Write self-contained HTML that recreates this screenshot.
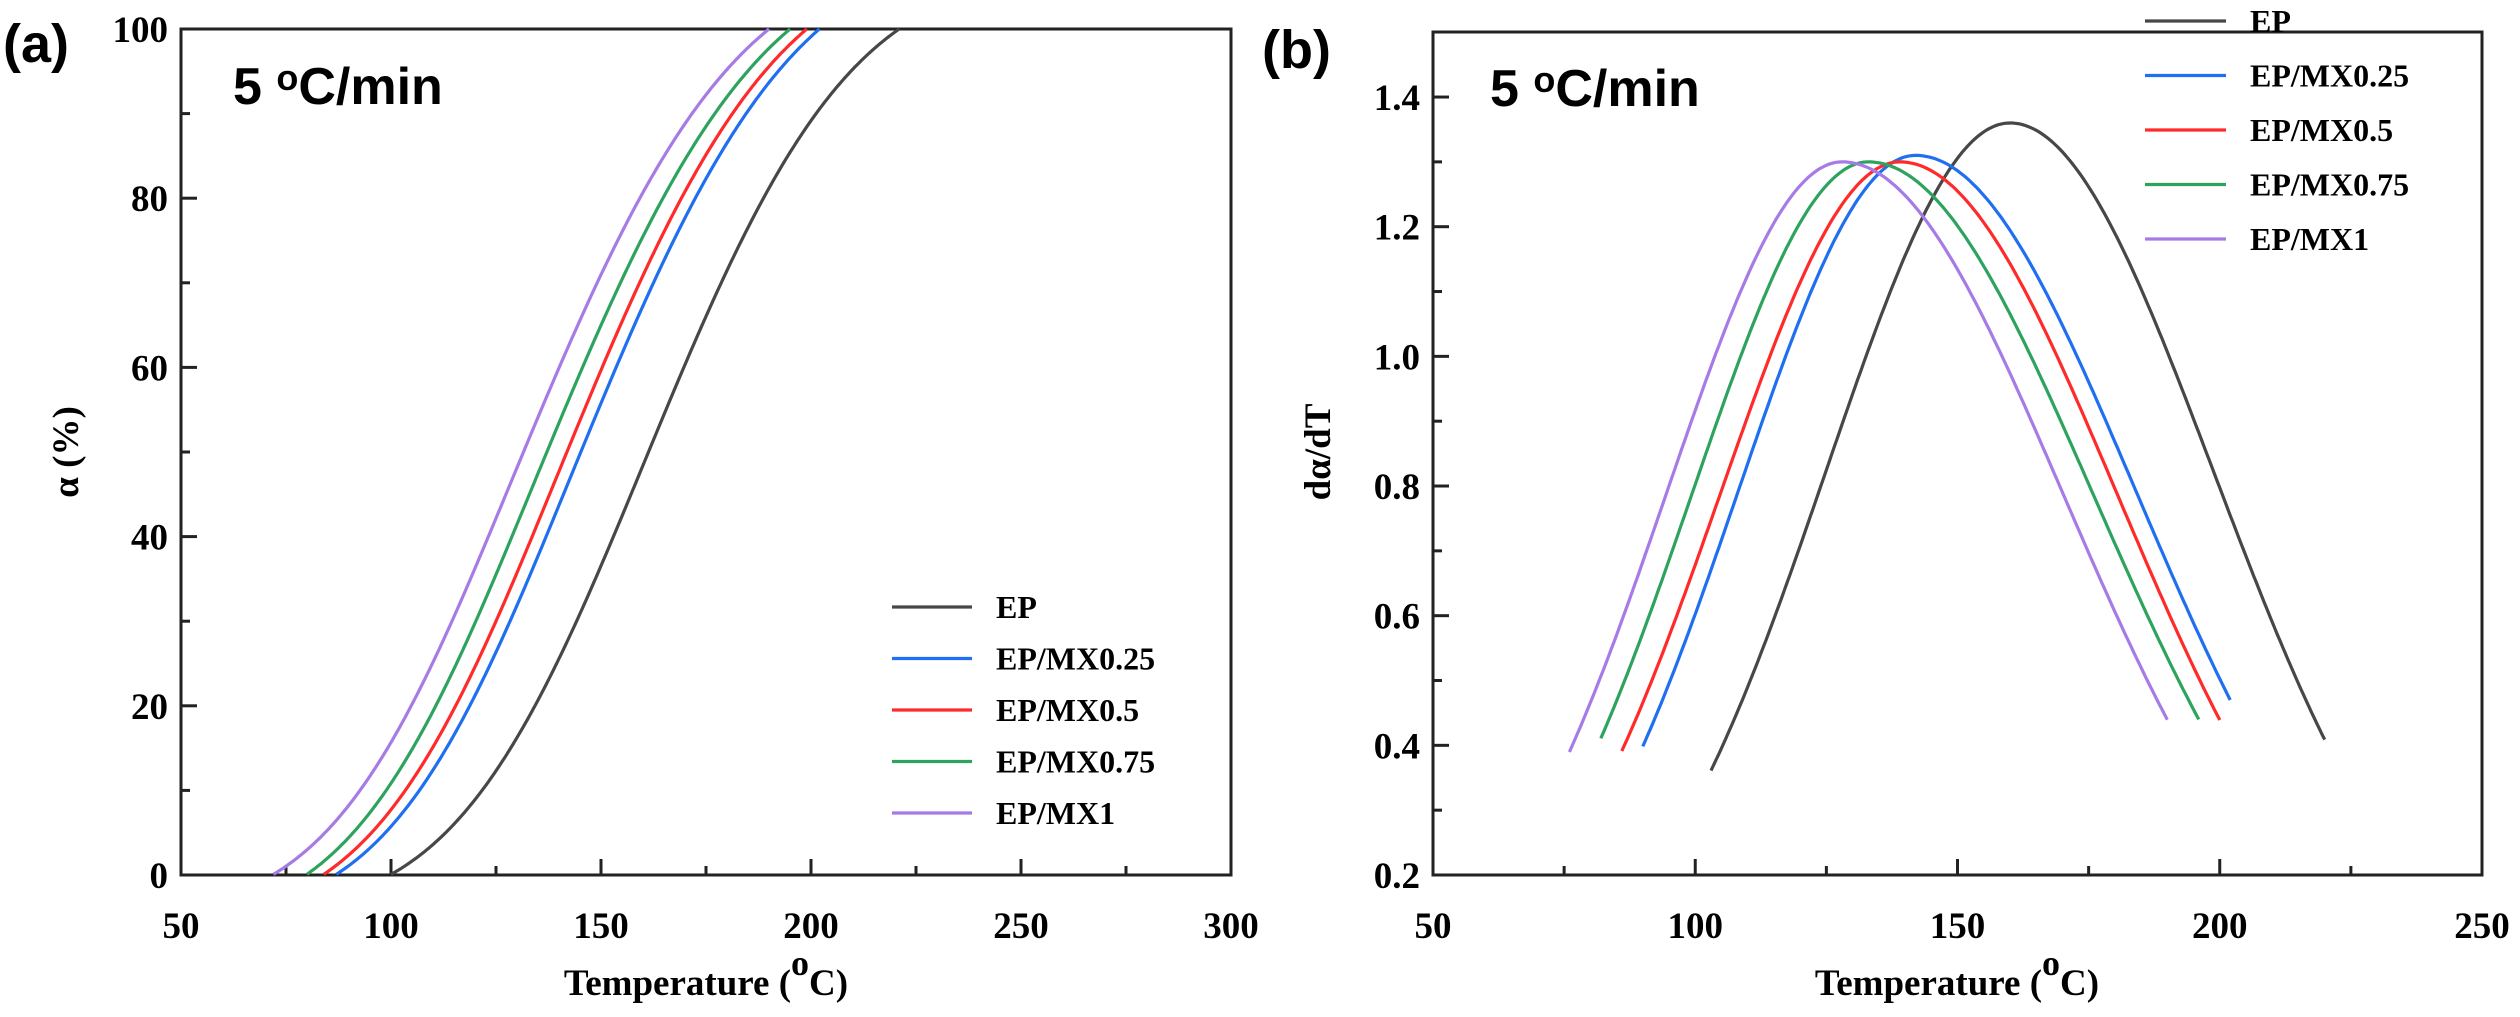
<!DOCTYPE html>
<html><head><meta charset="utf-8"><style>
html,body{margin:0;padding:0;background:#fff}
svg{display:block}
.t{font-family:"Liberation Serif",serif;font-weight:bold;font-size:37px;fill:#000}
.h{font-family:"Liberation Sans",sans-serif;font-weight:bold;fill:#000}
.lg{font-family:"Liberation Serif",serif;font-weight:bold;font-size:32px;fill:#000}
</style></head><body>
<svg id="s" width="2520" height="1017" xmlns="http://www.w3.org/2000/svg">
<rect width="2520" height="1017" fill="#fff"/>
<text class="h" x="3" y="62" font-size="54">(a)</text>
<text class="h" x="1262" y="68" font-size="54">(b)</text>
<text class="h" x="233" y="104" font-size="52">5 <tspan font-size="36" dy="-14">o</tspan><tspan dy="14">C/min</tspan></text>
<text class="h" x="1490" y="106" font-size="52">5 <tspan font-size="36" dy="-14">o</tspan><tspan dy="14">C/min</tspan></text>
<text class="t" font-size="58" x="706" y="995" text-anchor="middle">Temperature (<tspan font-size="36" dy="-20">o</tspan><tspan dy="20">C)</tspan></text>
<text class="t" font-size="58" x="1957" y="995" text-anchor="middle">Temperature (<tspan font-size="36" dy="-20">o</tspan><tspan dy="20">C)</tspan></text>
<text class="t" font-size="44" transform="translate(78,452) rotate(-90)" text-anchor="middle">α (%)</text>
<text class="t" font-size="44" transform="translate(1330,452) rotate(-90)" text-anchor="middle">dα/dT</text>
<g id="g"></g>
</svg>
<script>
var g=document.getElementById('g'),h='';
function L(x1,y1,x2,y2,w,c){h+='<line x1="'+x1+'" y1="'+y1+'" x2="'+x2+'" y2="'+y2+'" stroke="'+(c||'#222')+'" stroke-width="'+(w||3)+'"/>';}
function T(x,y,s,a){h+='<text class="t" x="'+x+'" y="'+y+'" text-anchor="'+(a||'middle')+'">'+s+'</text>';}
var aL=181,aR=1231,aT=29,aB=875;
function ax(t){return aL+(t-50)*4.2;} function ay(v){return aB-v*8.46;}
h+='<rect x="'+aL+'" y="'+aT+'" width="'+(aR-aL)+'" height="'+(aB-aT)+'" fill="none" stroke="#222" stroke-width="3"/>';
for(var t=50;t<=300;t+=25){var x=ax(t);L(x,aB,x,aB-(t%50?9:16));if(t%50==0)T(x,938,t);}
for(var v=0;v<=100;v+=10){var y=ay(v);L(aL,y,aL+(v%20?9:16),y);if(v%20==0)T(168,y+13,v,'end');}
var bL=1433,bR=2482,bT=32,bB=875;
function bx(t){return bL+(t-50)*5.245;} function by(v){return bB-(v-0.2)*648.3;}
h+='<rect x="'+bL+'" y="'+bT+'" width="'+(bR-bL)+'" height="'+(bB-bT)+'" fill="none" stroke="#222" stroke-width="3"/>';
for(var t=50;t<=250;t+=25){var x=bx(t);L(x,bB,x,bB-(t%50?9:16));if(t%50==0)T(x,938,t);}
for(var i=2;i<=14;i++){var v=i/10,y=by(v);L(bL,y,bL+(i%2?9:16),y);if(i%2==0)T(1420,y+13,v.toFixed(1),'end');}
var S=[
 {c:'#474747',n:'EP',mu:160,A:1.36,sl:35,sr:38.7,b0:103,b1:220,a0:100,a1:221},
 {c:'#1f6ff0',n:'EP/MX0.25',mu:142,A:1.31,sl:33.7,sr:41.9,b0:90,b1:202,a0:87,a1:202},
 {c:'#ff2a2a',n:'EP/MX0.5',mu:139,A:1.30,sl:34.2,sr:41.4,b0:86,b1:200,a0:84,a1:199},
 {c:'#2ea35e',n:'EP/MX0.75',mu:133,A:1.30,sl:33.6,sr:42.8,b0:82,b1:196,a0:80,a1:195},
 {c:'#a77be6',n:'EP/MX1',mu:128,A:1.30,sl:33.5,sr:42.1,b0:76,b1:190,a0:72,a1:190}];
function f(s,t){var sg=t<s.mu?s.sl:s.sr;return s.A*Math.exp(-Math.pow(t-s.mu,2)/(2*sg*sg));}
S.forEach(function(s,k){
 var p='';for(var t=s.b0;t<=s.b1+1e-6;t+=0.5){p+=(p?'L':'M')+bx(t).toFixed(1)+','+by(f(s,t)).toFixed(1);}
 h+='<path d="'+p+'" fill="none" stroke="'+s.c+'" stroke-width="3.2"/>';
 var tot=0,d=0.25;for(var t=s.a0;t<=s.a1;t+=d){tot+=f(s,t)*d;}
 var c=0;p='';for(var t=s.a0;t<=s.a1+1e-6;t+=d){c+=f(s,t)*d;var v=100*Math.min(1,c/tot);if(Math.round((t-s.a0)/d)%2==0||t+d>s.a1)p+=(p?'L':'M')+ax(t).toFixed(1)+','+ay(v).toFixed(1);}
 h+='<path d="'+p+'" fill="none" stroke="'+s.c+'" stroke-width="3.2"/>';
 var ya=607+k*51.5;L(892,ya,972,ya,3.2,s.c);h+='<text class="lg" x="996" y="'+(ya+11)+'">'+s.n+'</text>';
 var yb=21+k*54.5;L(2145,yb,2226,yb,3.2,s.c);h+='<text class="lg" x="2250" y="'+(yb+11)+'">'+s.n+'</text>';
});
g.innerHTML=h;
</script>
</body></html>
